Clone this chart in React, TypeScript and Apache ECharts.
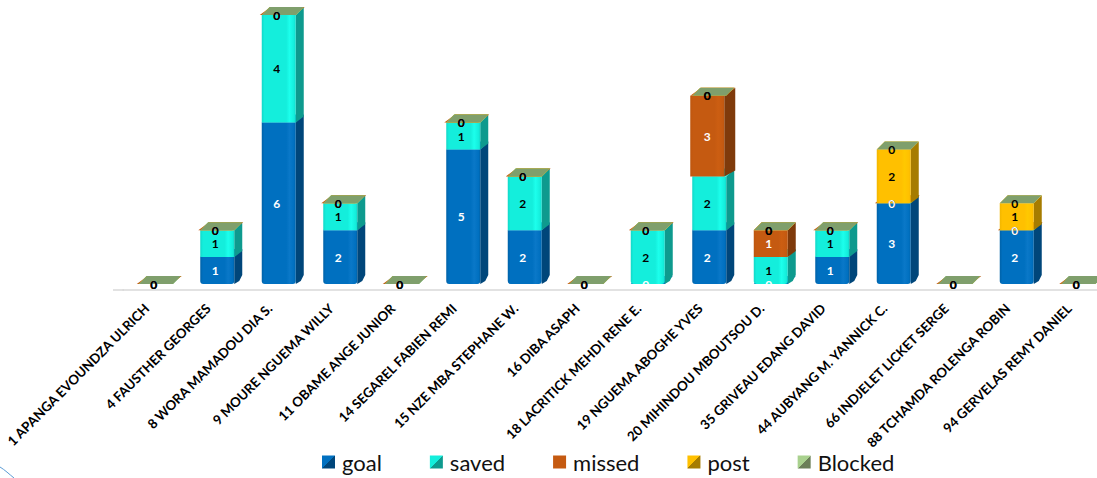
import React, { useEffect, useRef } from "react";
import * as echarts from "echarts";

const categories = [
  "1 APANGA EVOUNDZA ULRICH", "4 FAUSTHER GEORGES", "8 WORA MAMADOU DIA S.", "9 MOURE NGUEMA WILLY",
  "11 OBAME ANGE JUNIOR", "14 SEGAREL FABIEN REMI", "15 NZE MBA STEPHANE W.", "16 DIBA ASAPH",
  "18 LACRITICK MEHDI RENE E.", "19 NGUEMA ABOGHE YVES", "20 MIHINDOU MBOUTSOU D.", "35 GRIVEAU EDANG DAVID",
  "44 AUBYANG M. YANNICK C.", "66 INDJELET LICKET SERGE", "88 TCHAMDA ROLENGA ROBIN", "94 GERVELAS REMY DANIEL",
];
const goal = [0, 1, 6, 2, 0, 5, 2, 0, 0, 2, 0, 1, 3, 0, 2, 0];
const saved = [0, 1, 4, 1, 0, 1, 2, 0, 2, 2, 1, 1, 0, 0, 0, 0];
const missed = [0, 0, 0, 0, 0, 0, 0, 0, 0, 3, 1, 0, 0, 0, 0, 0];
const post = [0, 0, 0, 0, 0, 0, 0, 0, 0, 0, 0, 0, 2, 0, 1, 0];
const blocked = [0, 0, 0, 0, 0, 0, 0, 0, 0, 0, 0, 0, 0, 0, 0, 0];

const seriesDefs = [
  { name: "goal", values: goal, front: "#0070C0", edge: "#0062A8", glow: "#0A78C8", side: "#00467A", label: "#fff", legendA: "#0070C0", legendB: "#00467A" },
  { name: "saved", values: saved, front: "#14EEDC", edge: "#12D8C8", glow: "#1CFFEC", side: "#0E9A8E", label: "#000", legendA: "#14EEDC", legendB: "#0E9A8E" },
  { name: "missed", values: missed, front: "#C55A11", edge: "#BD560F", glow: "#CC5E12", side: "#7F3A0B", label: "#fff", legendA: "#C55A11", legendB: "#C55A11" },
  { name: "post", values: post, front: "#FFC000", edge: "#F2B600", glow: "#FFC800", side: "#A67C00", label: "#000", legendA: "#FFC000", legendB: "#A67C00" },
  { name: "Blocked", values: blocked, front: "#7F9F6F", edge: "#7F9F6F", glow: "#7F9F6F", side: "#5F7A50", label: "#000", legendA: "#A9D18E", legendB: "#6B7F58" },
];

const FONT = "Lato";
const topColor = (name: string, front: string) => (name === "Blocked" ? "#7F9F6C" : front);

function makeRenderItem(def: (typeof seriesDefs)[number]) {
  return (_params: any, api: any) => {
    const idx = api.value(0);
    const from = api.value(1);
    const to = api.value(2);
    const [cx, y0] = api.coord([idx, from]);
    const [, y1] = api.coord([idx, to]);
    const v = to - from;
    const isBox = def.name === "missed" && v !== 1;
    const left = cx + (isBox ? -17 : -15);
    const w = 34;
    const dx = isBox ? 11 : 8;
    const dy = 8;
    const right = left + w;
    const children: any[] = [];
    if (v > 0) {
      const bottomChamfer = from === 0 ? 3 : 0;
      children.push({
        type: "polygon",
        shape: {
          points: [
            [right, y0], [right, y1], [right + dx, y1 - dy],
            [right + dx, y0 - dy - 1], [right + dx - bottomChamfer, y0 - dy + 2 + bottomChamfer],
          ],
        },
        style: { fill: def.side },
      });
      children.push({
        type: "rect",
        shape: { x: left, y: y1, width: w, height: y0 - y1, r: from === 0 ? [0, 0, 3, 3] : 0 },
        style: {
          fill: new echarts.graphic.LinearGradient(0, 0, 1, 0, [
            { offset: 0, color: def.edge },
            { offset: 0.08, color: def.front },
            { offset: 0.72, color: def.front },
            { offset: 0.82, color: def.glow },
            { offset: 0.95, color: def.front },
            { offset: 1, color: def.edge },
          ]),
        },
      });
    }
    children.push({
      type: "polygon",
      shape: { points: [[left, y1], [left + dx, y1 - dy], [right + dx, y1 - dy], [right, y1]] },
      style: { fill: topColor(def.name, def.front) },
    });
    children.push({
      type: "text",
      z2: 50,
      style: {
        x: cx,
        y: (y0 + y1) / 2,
        text: String(v),
        align: "center",
        verticalAlign: "middle",
        fill: def.label,
        fontFamily: FONT,
        fontWeight: "bold",
        fontSize: 12,
      },
    });
    return { type: "group", children };
  };
}

function buildSeries() {
  const running = categories.map(() => 0);
  return seriesDefs.map((def) => {
    const data = def.values.map((v, i) => {
      const start = running[i];
      running[i] = start + v;
      return [i, start, running[i]];
    });
    return {
      type: "custom",
      name: def.name,
      itemStyle: { color: def.front },
      encode: { x: 0, y: 2 },
      data,
      renderItem: makeRenderItem(def),
      clip: false,
    };
  });
}

export default function App() {
  const ref = useRef<HTMLDivElement>(null);
  useEffect(() => {
    const chart = echarts.init(ref.current!, null, { renderer: "svg" });
    chart.setOption({
      animation: false,
      backgroundColor: "#ffffff",
      grid: { left: 123, top: 15, width: 984, height: 269, containLabel: false },
      xAxis: {
        type: "category",
        data: categories,
        offset: 6,
        axisLine: { show: true, onZero: false, lineStyle: { color: "#D9D9D9", width: 1.5 } },
        axisTick: { show: false },
        axisLabel: {
          interval: 0,
          rotate: 45,
          margin: 9,
          padding: [0, 10, 0, 0],
          color: "#000",
          fontFamily: FONT,
          fontWeight: "bold",
          fontSize: 13.3,
        },
      },
      yAxis: { type: "value", min: 0, max: 10, show: false },
      legend: {
        left: 322,
        top: 451,
        padding: 0,
        itemGap: 48,
        itemWidth: 13,
        itemHeight: 13,
        selectedMode: false,
        textStyle: { fontFamily: FONT, fontSize: 22, color: "#111", padding: [0, 0, 0, 2] },
        data: seriesDefs.map((d) => ({
          name: d.name,
          icon: "rect",
          itemStyle: {
            color: new echarts.graphic.LinearGradient(0, 0, 1, 1, [
              { offset: 0, color: d.legendA },
              { offset: 0.5, color: d.legendA },
              { offset: 0.5, color: d.legendB },
              { offset: 1, color: d.legendB },
            ]),
          },
        })),
      },
      graphic: [
        { type: "line", shape: { x1: 113, y1: 290, x2: 124, y2: 290 }, style: { stroke: "#D9D9D9", lineWidth: 1.5 } },
        {
          type: "bezierCurve",
          shape: { x1: 0, y1: 467, cpx1: 5, cpy1: 470, cpx2: 9, cpy2: 474, x2: 14, y2: 478 },
          style: { stroke: "#5B9BD5", lineWidth: 1, fill: "none" },
        },
      ],
      series: buildSeries(),
    });
    return () => chart.dispose();
  }, []);
  return (
    <div style={{ position: "absolute", left: 0, top: 0, width: 1097, height: 478, overflow: "hidden" }}>
      <div ref={ref} style={{ width: 1120, height: 478 }} />
    </div>
  );
}
